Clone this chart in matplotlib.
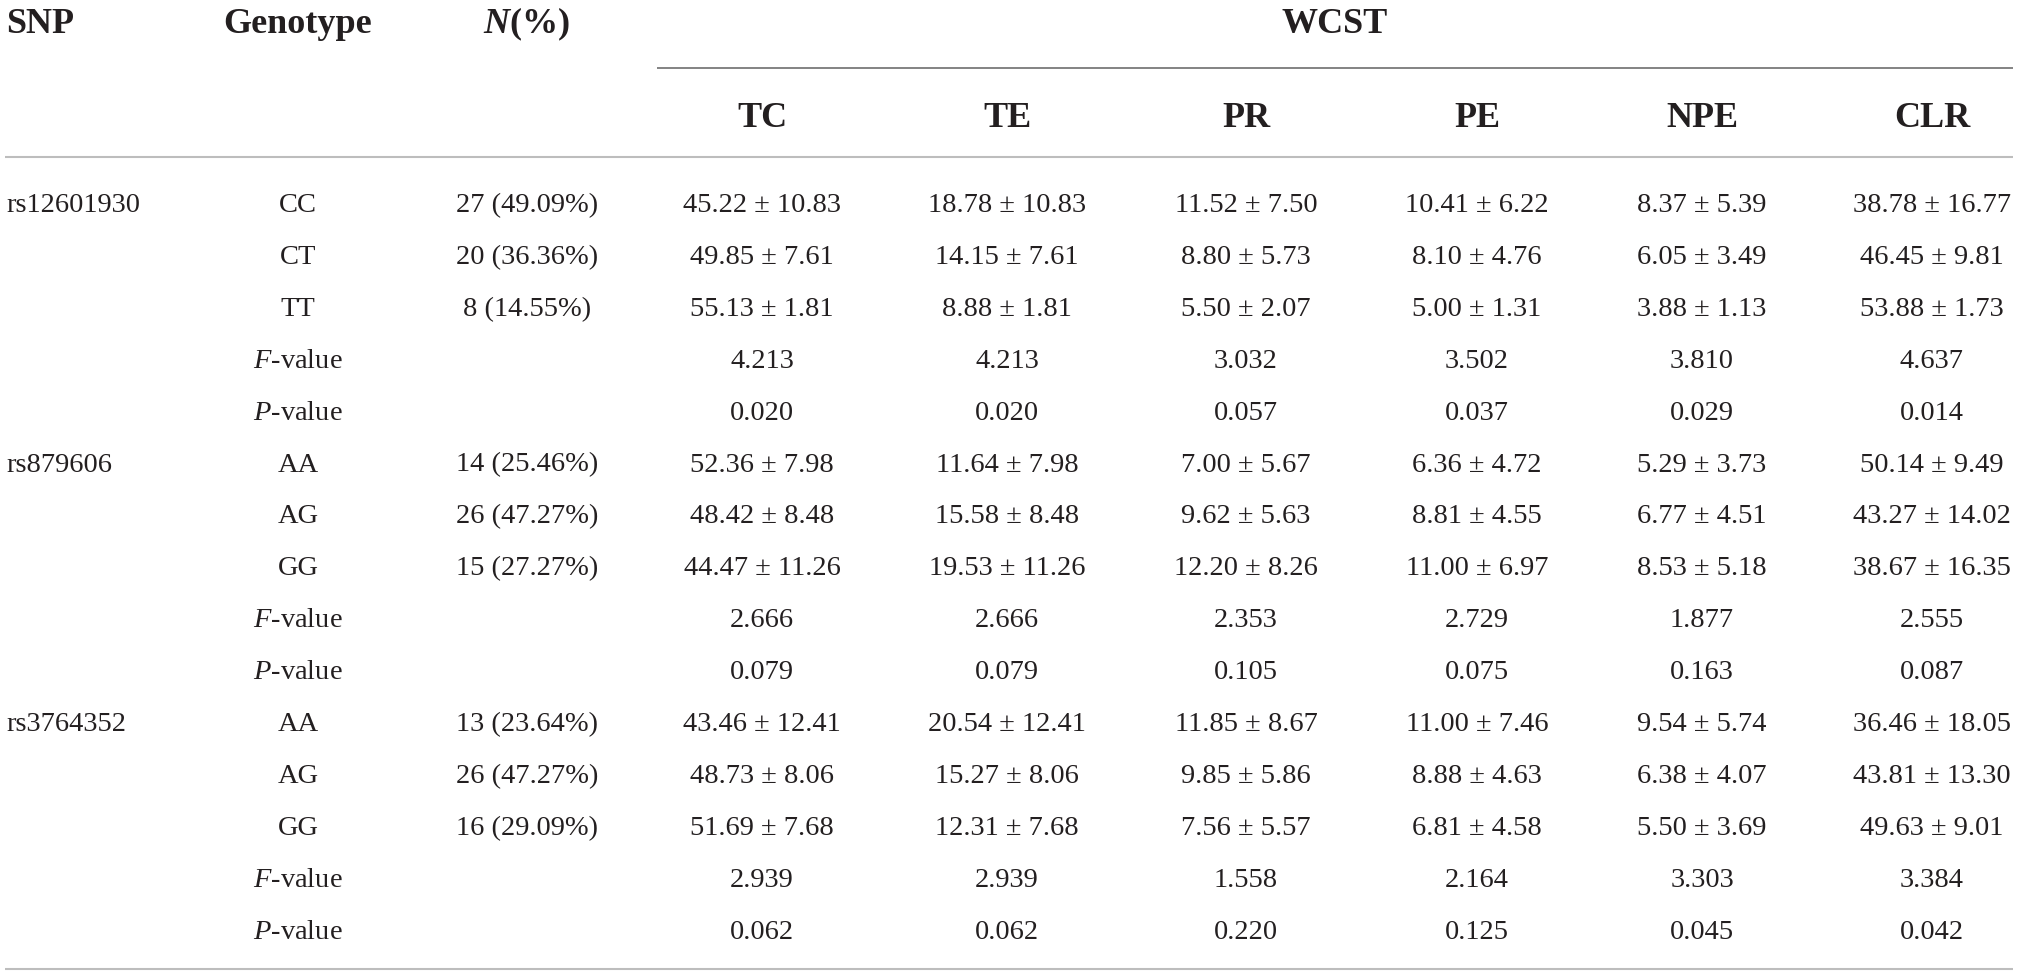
import numpy as np
import matplotlib
matplotlib.use('Agg')
import matplotlib.pyplot as plt

plt.rcParams['font.family'] = ['Liberation Serif', 'DejaVu Serif']
plt.rcParams['mathtext.fontset'] = 'custom'
plt.rcParams['mathtext.rm'] = 'Liberation Serif'
plt.rcParams['mathtext.it'] = 'Liberation Serif:italic'
plt.rcParams['mathtext.bf'] = 'Liberation Serif:bold'
plt.rcParams['mathtext.bfit'] = 'Liberation Serif:italic:bold'

# table data
snps = ['rs12601930', 'rs879606', 'rs3764352']
genotypes = [['CC', 'CT', 'TT'], ['AA', 'AG', 'GG'], ['AA', 'AG', 'GG']]
n_counts = [[27, 20, 8], [14, 26, 15], [13, 26, 16]]
n_pct = [['49.09', '36.36', '14.55'], ['25.46', '47.27', '27.27'], ['23.64', '47.27', '29.09']]
measures = ['TC', 'TE', 'PR', 'PE', 'NPE', 'CLR']

means_rs12601930 = [[45.22, 18.78, 11.52, 10.41, 8.37, 38.78],
                    [49.85, 14.15, 8.80, 8.10, 6.05, 46.45],
                    [55.13, 8.88, 5.50, 5.00, 3.88, 53.88]]
sds_rs12601930 = [[10.83, 10.83, 7.50, 6.22, 5.39, 16.77],
                  [7.61, 7.61, 5.73, 4.76, 3.49, 9.81],
                  [1.81, 1.81, 2.07, 1.31, 1.13, 1.73]]
f_rs12601930 = [4.213, 4.213, 3.032, 3.502, 3.810, 4.637]
p_rs12601930 = [0.020, 0.020, 0.057, 0.037, 0.029, 0.014]

means_rs879606 = [[52.36, 11.64, 7.00, 6.36, 5.29, 50.14],
                  [48.42, 15.58, 9.62, 8.81, 6.77, 43.27],
                  [44.47, 19.53, 12.20, 11.00, 8.53, 38.67]]
sds_rs879606 = [[7.98, 7.98, 5.67, 4.72, 3.73, 9.49],
                [8.48, 8.48, 5.63, 4.55, 4.51, 14.02],
                [11.26, 11.26, 8.26, 6.97, 5.18, 16.35]]
f_rs879606 = [2.666, 2.666, 2.353, 2.729, 1.877, 2.555]
p_rs879606 = [0.079, 0.079, 0.105, 0.075, 0.163, 0.087]

means_rs3764352 = [[43.46, 20.54, 11.85, 11.00, 9.54, 36.46],
                   [48.73, 15.27, 9.85, 8.88, 6.38, 43.81],
                   [51.69, 12.31, 7.56, 6.81, 5.50, 49.63]]
sds_rs3764352 = [[12.41, 12.41, 8.67, 7.46, 5.74, 18.05],
                 [8.06, 8.06, 5.86, 4.63, 4.07, 13.30],
                 [7.68, 7.68, 5.57, 4.58, 3.69, 9.01]]
f_rs3764352 = [2.939, 2.939, 1.558, 2.164, 3.303, 3.384]
p_rs3764352 = [0.062, 0.062, 0.220, 0.125, 0.045, 0.042]

all_means = [means_rs12601930, means_rs879606, means_rs3764352]
all_sds = [sds_rs12601930, sds_rs879606, sds_rs3764352]
all_f = [f_rs12601930, f_rs879606, f_rs3764352]
all_p = [p_rs12601930, p_rs879606, p_rs3764352]

# layout (pixel units, y downwards)
W, H = 2019, 975
x_snp = 6
x_geno = 298
x_n = 527
x_meas = [762, 1007, 1246, 1477, 1702, 1932]
y_head = 33
y_sub = 127
y_row0 = 212
dy = 51.9
txt = '#231f20'
fs_body = 20.5
fs_head = 26

fig = plt.figure(figsize=(W / 100, H / 100), dpi=100)
ax = fig.add_axes([0, 0, 1, 1])
ax.set_xlim(0, W)
ax.set_ylim(H, 0)
ax.axis('off')

# header
ax.text(x_snp, y_head, 'SNP', fontsize=fs_head, fontweight='bold', ha='left', va='baseline', color=txt)
ax.text(x_geno, y_head, 'Genotype', fontsize=fs_head, fontweight='bold', ha='center', va='baseline', color=txt)
ax.text(x_n, y_head, r'$\mathbfit{N}$(%)', fontsize=fs_head, fontweight='bold', ha='center', va='baseline', color=txt)
ax.text((657 + 2013) / 2, y_head, 'WCST', fontsize=fs_head, fontweight='bold', ha='center', va='baseline', color=txt)
ax.plot([657, 2013], [68, 68], color='#7a7a7a', lw=1.3, solid_capstyle='butt')
for xm, m in zip(x_meas, measures):
    ax.text(xm, y_sub, m, fontsize=fs_head, fontweight='bold', ha='center', va='baseline', color=txt)
ax.plot([5, 2013], [157, 157], color='#bdbdbd', lw=1.5, solid_capstyle='butt')

# body
row = 0
for s in range(len(snps)):
    y = y_row0 + row * dy
    ax.text(x_snp, y, snps[s], fontsize=fs_body, ha='left', va='baseline', color=txt)
    for g in range(3):
        y = y_row0 + row * dy
        ax.text(x_geno, y, genotypes[s][g], fontsize=fs_body, ha='center', va='baseline', color=txt)
        ax.text(x_n, y, '%d (%s%%)' % (n_counts[s][g], n_pct[s][g]), fontsize=fs_body,
                ha='center', va='baseline', color=txt)
        for k, xm in enumerate(x_meas):
            lab = '%.2f \u00b1 %.2f' % (all_means[s][g][k], all_sds[s][g][k])
            ax.text(xm, y, lab, fontsize=fs_body, ha='center', va='baseline', color=txt)
        row += 1
    y = y_row0 + row * dy
    ax.text(x_geno, y, r'$F$-value', fontsize=fs_body, ha='center', va='baseline', color=txt)
    for k, xm in enumerate(x_meas):
        ax.text(xm, y, '%.3f' % all_f[s][k], fontsize=fs_body, ha='center', va='baseline', color=txt)
    row += 1
    y = y_row0 + row * dy
    ax.text(x_geno, y, r'$P$-value', fontsize=fs_body, ha='center', va='baseline', color=txt)
    for k, xm in enumerate(x_meas):
        ax.text(xm, y, '%.3f' % all_p[s][k], fontsize=fs_body, ha='center', va='baseline', color=txt)
    row += 1

ax.plot([5, 2013], [969, 969], color='#bdbdbd', lw=1.5, solid_capstyle='butt')

fig.savefig('out.png', dpi=100, facecolor='white')
